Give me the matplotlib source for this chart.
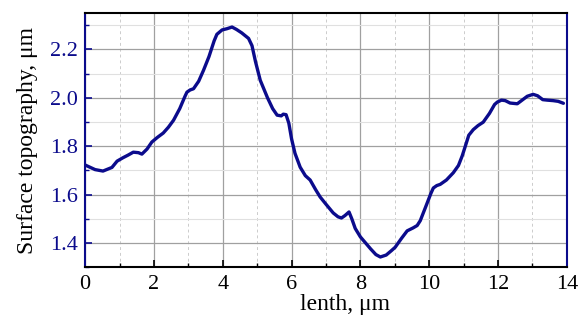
import numpy as np
from matplotlib import pyplot as plt
from matplotlib.ticker import MultipleLocator

# Profile (x in um, height in um)
length = [0.0, 0.29, 0.52, 0.78, 0.93, 1.1, 1.25, 1.4, 1.55, 1.65, 1.8, 1.94, 2.1, 2.27,
          2.42, 2.57, 2.75, 2.9, 2.96, 3.05, 3.15, 3.3, 3.44, 3.6, 3.75, 3.83, 3.98,
          4.12, 4.27, 4.4, 4.55, 4.75, 4.85, 4.95, 5.09, 5.3, 5.45, 5.58, 5.7, 5.76,
          5.84, 5.92, 6.0, 6.1, 6.25, 6.4, 6.54, 6.7, 6.83, 7.0, 7.21, 7.35, 7.45,
          7.55, 7.67, 7.75, 7.85, 8.0, 8.15, 8.3, 8.45, 8.58, 8.75, 8.9, 9.01,
          9.2, 9.36, 9.53, 9.65, 9.74, 9.9, 10.05, 10.12, 10.22, 10.32, 10.5, 10.7,
          10.85, 10.96, 11.05, 11.15, 11.28, 11.42, 11.57, 11.75, 11.9, 11.98,
          12.1, 12.21, 12.35, 12.56, 12.7, 12.85, 13.02, 13.15, 13.3, 13.43,
          13.6, 13.75, 13.9]
height = [1.722, 1.703, 1.697, 1.712, 1.738, 1.752, 1.763, 1.775, 1.773, 1.767, 1.788,
          1.817, 1.836, 1.854, 1.878, 1.907, 1.955, 2.005, 2.023, 2.032, 2.037, 2.068,
          2.113, 2.17, 2.235, 2.262, 2.28, 2.285, 2.292, 2.282, 2.268, 2.245, 2.215,
          2.15, 2.072, 2.0, 1.955, 1.928, 1.925, 1.932, 1.93, 1.895, 1.83, 1.77,
          1.713, 1.678, 1.66, 1.62, 1.59, 1.56, 1.524, 1.508, 1.503, 1.513, 1.528,
          1.5, 1.46, 1.425, 1.4, 1.375, 1.352, 1.342, 1.35, 1.368, 1.382, 1.42,
          1.45, 1.462, 1.472, 1.492, 1.55, 1.605, 1.627, 1.637, 1.642, 1.66, 1.69,
          1.72, 1.76, 1.8, 1.845, 1.868, 1.885, 1.899, 1.935, 1.972, 1.982, 1.99,
          1.988, 1.978, 1.975, 1.99, 2.006, 2.014, 2.008, 1.992, 1.99, 1.988, 1.985,
          1.977]

navy = '#0b0b8c'

plt.rcParams['font.family'] = ['Liberation Serif', 'DejaVu Serif']

fig = plt.figure(figsize=(5.79, 3.25), dpi=100)
ax = fig.add_axes([0.147, 0.178, 0.832, 0.782])

ax.plot(length, height, color=navy, linewidth=2.4, solid_joinstyle='round',
        solid_capstyle='round')

ax.set_xlim(0, 14)
ax.set_ylim(1.3, 2.35)
ax.xaxis.set_major_locator(MultipleLocator(2))
ax.xaxis.set_minor_locator(MultipleLocator(1))
ax.yaxis.set_major_locator(MultipleLocator(0.2))
ax.yaxis.set_minor_locator(MultipleLocator(0.1))
ax.yaxis.set_major_formatter(plt.FormatStrFormatter('%.1f'))

# grid
ax.grid(True, which='major', color='#a0a0a0', linewidth=0.9)
ax.xaxis.grid(True, which='minor', color='#cccccc', linewidth=0.7, linestyle=(0, (3, 3)))
ax.yaxis.grid(True, which='minor', color='#e0e0e0', linewidth=0.8)
ax.set_axisbelow(True)

ax.tick_params(which='both', direction='in', top=False, right=False)
ax.tick_params(which='major', length=5, width=1.2, labelsize=16)
ax.tick_params(which='minor', length=3, width=1.0)
ax.tick_params(axis='y', which='both', color=navy, labelcolor=navy, pad=5)
ax.tick_params(axis='x', which='both', color='black', labelcolor='black', pad=6)

for side in ['left', 'right']:
    ax.spines[side].set_color(navy)
    ax.spines[side].set_linewidth(1.5)
for side in ['top', 'bottom']:
    ax.spines[side].set_color('black')
    ax.spines[side].set_linewidth(1.5)

ax.set_xlabel('lenth, \u03bcm', fontsize=17)
ax.xaxis.set_label_coords(0.54, -0.105, transform=ax.transAxes)
ax.xaxis.label.set_va('top')
ax.set_ylabel('Surface topography, \u03bcm', fontsize=17, labelpad=9)

fig.savefig('out.png', dpi=100)
